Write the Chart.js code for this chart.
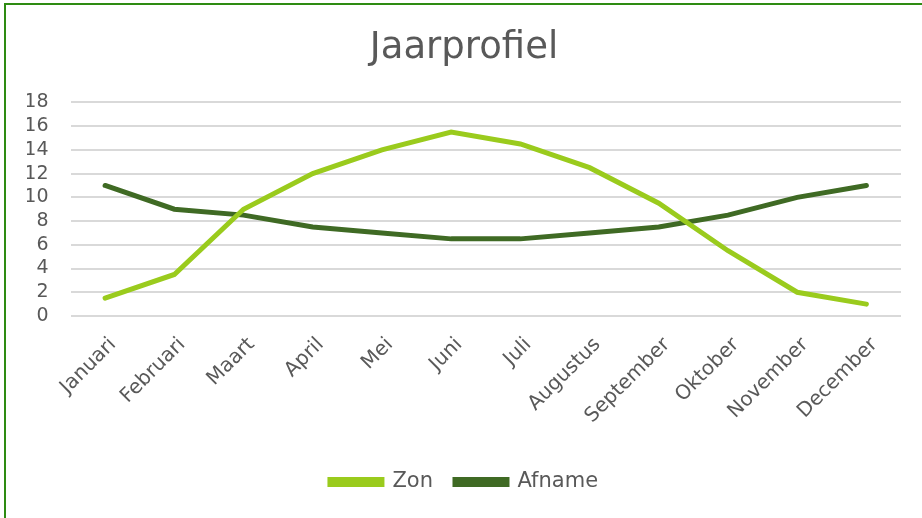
<!DOCTYPE html>
<html>
<head>
<meta charset="utf-8">
<script src="https://cdn.jsdelivr.net/npm/chart.js@4"></script>
<style>
  html, body { margin: 0; padding: 0; background: #fff; }
  #frame {
    position: absolute; left: 4px; top: 3px;
    width: 916px; height: 515px;
    border-top: 2px solid #2e8b12;
    border-left: 2px solid #2e8b12;
  }
  canvas { display: block; }
</style>
</head>
<body>
<div id="frame"><canvas id="chart" width="916" height="515"></canvas></div>
<script>
// ── Data ──
const months = ['Januari', 'Februari', 'Maart', 'April', 'Mei', 'Juni',
                'Juli', 'Augustus', 'September', 'Oktober', 'November', 'December'];
const zon    = [1.5, 3.5, 9, 12, 14, 15.5, 14.5, 12.5, 9.5, 5.5, 2, 1];
const afname = [11, 9, 8.5, 7.5, 7, 6.5, 6.5, 7, 7.5, 8.5, 10, 11];

const FONT = "'DejaVu Sans', sans-serif";
const TEXT = '#595959';

new Chart(document.getElementById('chart'), {
  type: 'line',
  data: {
    labels: months,
    datasets: [
      {
        label: 'Zon',
        data: zon,
        borderColor: '#9acb1d',
        backgroundColor: '#9acb1d',
        borderWidth: 5,
        pointRadius: 0,
        tension: 0,
        borderCapStyle: 'round',
      },
      {
        label: 'Afname',
        data: afname,
        borderColor: '#3f6a24',
        backgroundColor: '#3f6a24',
        borderWidth: 5,
        pointRadius: 0,
        tension: 0,
        borderCapStyle: 'round',
      }
    ]
  },
  options: {
    responsive: false,
    animation: false,
    layout: { padding: { left: 21, right: 21, top: 0, bottom: 17.5 } },
    plugins: {
      title: {
        display: true,
        text: 'Jaarprofiel',
        color: TEXT,
        font: { family: FONT, size: 37, weight: 'normal' },
        padding: { top: 21, bottom: 32 }
      },
      legend: {
        position: 'bottom',
        labels: {
          color: TEXT,
          font: { family: FONT, size: 21 },
          boxWidth: 52,
          boxHeight: 5,
          padding: 22
        }
      },
      tooltip: { enabled: false }
    },
    scales: {
      x: {
        offset: true,
        grid: { display: false, drawTicks: false },
        border: { display: false },
        ticks: {
          color: TEXT,
          font: { family: FONT, size: 20 },
          minRotation: 45,
          maxRotation: 45,
          autoSkip: false,
          labelOffset: 8,
          padding: 17
        },
        afterFit: s => { s.height = 133.5; }
      },
      y: {
        min: 0,
        max: 18,
        grid: { color: '#d9d9d9', lineWidth: 2, drawTicks: false },
        border: { display: false },
        ticks: {
          stepSize: 2,
          autoSkip: false,
          color: TEXT,
          font: { family: FONT, size: 19 },
          padding: 22
        },
        afterFit: s => { s.width = 43.5; }
      }
    }
  }
});
</script>
</body>
</html>
